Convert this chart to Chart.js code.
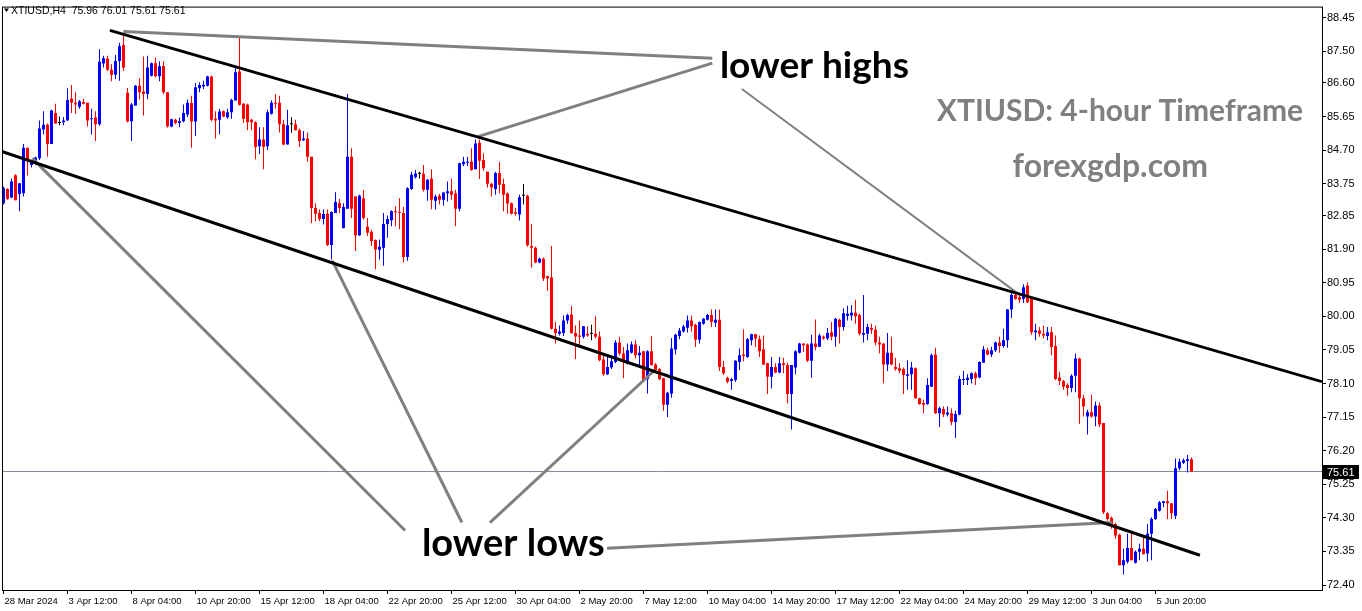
<!DOCTYPE html>
<html><head><meta charset="utf-8">
<script src="https://cdn.jsdelivr.net/npm/chart.js@4/dist/chart.umd.min.js"></script>
<style>html,body{margin:0;padding:0;background:#fff;overflow:hidden}canvas{display:block}</style>
</head><body>
<canvas id="c" width="1362" height="611"></canvas>
<script>
const symbolName = 'XTIUSD,H4';
const barOpen = [
83.20,83.60,83.36,83.99,83.46,83.48,84.77,84.28,84.40,84.47,
85.28,85.42,84.87,85.75,85.47,85.49,85.54,86.15,86.04,85.93,
86.06,86.04,85.57,85.62,85.43,87.15,87.29,86.97,86.83,87.22,
87.67,86.32,85.52,85.96,86.52,86.36,86.29,86.80,87.16,86.79,
87.08,86.34,85.37,85.56,85.47,85.52,85.71,86.03,85.51,86.45,
86.50,86.52,86.78,85.59,85.56,85.80,85.63,85.77,86.10,86.92,
86.01,85.98,85.56,85.49,84.81,85.00,84.81,85.73,86.04,86.04,
85.43,84.86,85.43,85.43,85.26,84.98,85.03,84.51,83.06,82.92,
82.75,82.90,82.02,82.92,83.20,82.50,83.04,84.51,83.39,82.29,
83.34,82.53,82.39,82.16,81.88,81.94,82.61,82.72,82.97,82.94,
82.92,81.68,83.60,83.93,84.03,84.03,83.58,83.90,83.27,83.41,
83.30,83.48,83.54,83.47,83.04,84.30,84.34,84.37,84.16,84.91,
84.42,84.09,83.75,83.60,84.05,83.74,83.47,83.20,82.94,82.88,
83.41,83.41,81.99,81.94,81.52,81.63,81.13,81.10,79.65,79.51,
79.53,79.88,80.05,79.53,79.46,79.42,79.51,79.50,79.51,79.42,
78.78,78.36,78.55,78.71,79.26,78.95,78.67,78.97,79.20,78.90,
79.01,78.22,79.01,78.64,78.51,78.25,77.50,77.82,79.06,79.44,
79.57,79.68,79.88,79.76,79.34,79.79,79.90,80.04,79.82,79.90,
78.57,78.26,78.17,78.20,78.71,78.92,78.85,79.32,79.49,79.35,
79.07,78.67,78.29,78.57,78.41,78.67,78.62,77.80,78.55,78.97,
79.23,79.20,78.74,79.23,79.14,79.42,79.37,79.55,79.42,79.90,
79.70,80.01,80.02,80.10,80.04,79.48,79.51,79.67,79.62,79.26,
79.23,78.64,78.97,78.57,78.53,78.51,78.32,78.36,78.53,77.68,
77.55,77.52,78.01,78.92,77.26,77.38,77.22,77.26,77.01,77.22,
78.20,78.20,78.23,78.39,78.27,78.69,79.04,78.92,79.04,79.26,
79.16,79.32,80.19,80.60,80.54,80.49,80.87,80.54,79.55,79.60,
79.51,79.44,79.55,79.16,78.27,78.17,78.06,77.97,78.32,78.81,
77.68,77.17,77.29,77.17,77.48,76.98,74.43,74.30,74.13,73.82,
72.96,73.06,73.45,73.03,73.34,73.43,73.29,73.85,74.27,74.50,
74.72,74.77,74.71,74.36,75.70,75.86,75.91,75.96];
const barHigh = [
83.67,83.62,83.90,84.02,83.76,84.87,84.77,84.42,84.51,85.54,
85.80,85.45,85.84,86.01,85.65,85.64,86.45,86.54,86.34,86.12,
86.15,86.04,85.87,85.80,87.55,87.37,87.37,87.13,87.39,87.74,
87.97,86.46,86.03,86.54,86.73,87.35,87.37,87.18,87.32,87.21,
87.21,86.34,85.59,85.59,85.62,85.99,86.13,86.24,86.60,86.62,
86.66,86.80,86.80,85.80,85.87,85.82,85.87,86.15,87.04,87.88,
86.03,86.01,85.59,85.52,85.35,85.35,85.84,86.10,86.29,86.24,
85.56,85.84,85.63,85.56,85.31,85.24,85.19,84.51,83.20,83.02,
83.02,83.02,82.97,83.51,83.32,83.20,86.29,84.75,83.39,83.44,
83.58,82.78,82.45,82.17,82.17,82.92,82.85,83.00,83.11,83.34,
83.09,83.65,84.09,84.14,84.09,84.28,83.88,84.16,83.44,83.46,
83.50,83.81,83.90,83.58,84.34,84.51,84.51,84.75,85.00,85.00,
84.61,84.09,83.78,84.09,84.37,83.90,83.50,83.22,83.06,83.44,
83.74,83.44,82.61,81.97,81.66,81.66,81.15,81.99,79.84,79.74,
80.02,80.07,80.29,79.74,79.88,79.72,79.72,79.76,80.00,79.57,
78.90,78.90,78.90,79.32,79.42,79.13,79.23,79.29,79.32,79.16,
79.01,79.04,79.44,78.67,78.54,78.26,77.87,79.39,79.51,79.67,
79.76,80.02,80.02,79.79,79.85,79.95,80.07,80.19,80.19,80.19,
78.74,78.29,78.26,78.76,79.09,79.63,79.39,79.51,79.51,79.46,
79.46,78.69,78.85,78.67,78.85,78.83,78.69,78.62,79.04,79.25,
79.23,79.23,79.48,79.91,79.51,79.46,79.67,79.84,79.95,79.93,
80.23,80.30,80.32,80.47,80.07,80.60,79.79,79.79,79.74,79.42,
79.23,79.53,79.42,78.83,78.67,78.55,78.76,78.71,78.55,77.70,
77.64,78.25,78.95,79.11,77.45,77.45,77.45,77.39,77.33,78.32,
78.45,78.36,78.41,78.43,78.73,79.16,79.11,79.14,79.29,79.42,
79.65,80.21,80.66,80.68,80.60,80.91,80.96,80.54,79.79,79.70,
79.74,79.70,79.70,79.46,78.43,78.20,78.11,78.36,78.95,78.83,
77.78,77.36,77.78,77.59,77.57,76.98,74.46,74.34,74.16,73.85,
73.43,73.85,73.85,73.38,73.57,73.76,74.13,74.32,74.58,74.78,
74.78,75.07,74.71,75.98,75.98,75.98,76.08,76.01];
const barLow = [
83.16,83.30,83.34,83.28,82.97,83.39,83.98,84.21,84.28,84.42,
85.15,84.51,84.87,85.45,85.40,85.40,85.54,85.75,85.73,85.87,
85.99,85.37,85.14,84.96,85.39,87.04,86.94,86.65,86.71,86.66,
86.94,85.49,84.96,85.96,86.13,85.68,86.14,86.78,86.76,86.65,
86.29,85.34,85.35,85.43,85.35,85.49,85.64,84.77,85.10,86.34,
86.43,86.50,85.52,85.03,85.15,85.63,85.59,85.59,86.10,85.96,
85.47,85.26,85.26,84.44,84.59,84.16,84.70,85.71,85.87,85.20,
84.84,84.86,85.19,85.26,84.79,84.96,84.37,82.64,82.69,82.69,
82.60,81.99,81.61,82.92,82.92,82.48,83.04,82.78,81.85,82.27,
82.74,82.27,81.99,81.33,81.61,81.43,82.22,82.55,82.55,82.46,
81.52,81.57,83.58,83.90,83.90,83.53,83.27,83.03,83.02,83.16,
83.13,83.25,83.30,82.55,82.97,84.25,84.25,84.12,84.16,83.88,
84.12,83.64,83.39,83.44,83.48,82.97,82.90,82.88,82.85,82.71,
83.16,81.97,81.38,81.50,81.50,81.00,80.72,79.63,79.23,79.46,
79.44,79.79,79.51,78.79,79.18,79.37,79.42,79.32,79.37,78.73,
78.32,78.34,78.51,78.67,78.90,78.25,78.64,78.95,78.81,78.57,
78.15,77.82,78.60,78.43,78.20,77.33,77.15,77.70,78.92,79.35,
79.54,79.54,79.56,79.13,79.23,79.76,79.88,79.70,79.70,78.45,
78.34,78.11,77.92,78.15,78.48,78.73,78.83,79.18,79.13,78.85,
78.62,77.80,77.96,78.39,78.39,78.39,77.54,76.80,78.36,78.95,
78.99,78.71,78.26,79.04,79.14,79.34,79.32,79.32,79.14,79.23,
79.60,79.88,79.88,79.79,79.46,79.26,79.32,79.51,79.18,78.95,
78.11,78.45,78.62,78.46,78.39,77.80,77.92,77.92,77.67,77.50,
77.26,77.50,78.01,77.24,76.87,77.15,77.17,76.92,76.56,77.20,
78.06,78.06,78.11,78.06,78.25,78.69,78.90,78.85,78.99,78.97,
79.11,79.11,79.95,80.47,80.38,80.38,80.38,79.48,79.32,79.42,
79.37,79.32,78.90,78.20,78.06,77.92,77.76,77.85,77.85,76.96,
77.17,76.66,77.14,76.89,76.87,74.41,74.22,73.99,73.71,72.96,
72.70,73.01,73.10,73.01,73.10,73.27,73.06,73.10,74.24,74.48,
74.60,74.27,74.27,74.27,75.65,75.82,75.58,75.61];
const barClose = [
83.62,83.32,83.81,83.28,83.76,84.77,84.42,84.35,84.49,85.31,
85.42,84.87,85.82,85.45,85.47,85.54,86.12,86.04,85.99,86.08,
86.01,85.54,85.59,85.43,87.20,87.30,86.97,86.83,87.22,87.64,
87.04,85.51,85.99,86.52,86.34,86.29,87.04,87.16,86.79,87.07,
86.34,85.37,85.57,85.47,85.52,85.75,86.04,85.51,86.48,86.54,
86.55,86.78,85.56,85.54,85.79,85.65,85.77,86.12,86.90,85.98,
85.59,85.49,85.49,84.79,85.00,84.79,85.77,86.04,86.01,85.43,
84.86,85.40,85.43,85.26,84.96,85.03,84.51,83.06,82.90,82.75,
82.89,82.02,82.95,83.23,83.06,83.09,84.51,83.04,82.29,83.41,
82.78,82.36,82.13,81.89,81.97,82.61,82.75,82.97,82.94,82.92,
81.68,83.62,84.00,84.04,84.03,83.58,83.86,83.30,83.39,83.30,
83.50,83.54,83.44,83.04,84.33,84.37,84.37,84.14,84.89,84.40,
84.19,83.75,83.65,84.05,83.72,83.44,83.19,82.90,82.90,83.37,
83.41,82.01,81.94,81.52,81.63,81.07,81.07,79.65,79.53,79.57,
79.88,80.04,79.53,79.43,79.42,79.72,79.46,79.50,79.42,78.76,
78.36,78.57,78.73,79.26,78.95,78.71,79.04,79.20,78.90,78.97,
78.20,79.01,78.62,78.48,78.22,77.50,77.84,79.09,79.48,79.60,
79.71,79.88,79.72,79.34,79.84,79.93,80.04,79.84,79.90,78.57,
78.39,78.15,78.22,78.74,78.90,78.88,79.35,79.49,79.37,79.01,
78.64,78.29,78.57,78.41,78.67,78.62,77.80,78.62,79.01,79.23,
79.18,78.74,79.23,79.13,79.46,79.37,79.53,79.42,79.93,79.70,
80.09,80.07,80.10,80.00,79.51,79.53,79.70,79.62,79.26,79.20,
78.64,78.97,78.64,78.51,78.46,78.34,78.36,78.55,77.68,77.52,
77.50,78.06,78.90,77.26,77.40,77.22,77.28,77.01,77.24,78.23,
78.23,78.26,78.39,78.25,78.71,79.07,78.92,79.04,79.26,79.16,
79.32,80.19,80.60,80.49,80.47,80.82,80.40,79.55,79.60,79.51,
79.46,79.55,79.13,78.23,78.17,78.01,77.97,78.32,78.81,77.68,
77.45,77.29,77.17,77.48,76.94,74.46,74.27,74.13,73.80,72.96,
73.10,73.45,73.10,73.34,73.43,73.27,73.85,74.27,74.55,74.74,
74.77,74.71,74.43,75.70,75.89,75.93,75.96,75.61];

const xTickBars = [0,16,32,48,64,80,96,112,128,144,160,176,192,208,224,240,256,272,288];
const xTickLabels = ['28 Mar 2024','3 Apr 12:00','8 Apr 04:00','10 Apr 20:00','15 Apr 12:00','18 Apr 04:00','22 Apr 20:00','25 Apr 12:00','30 Apr 04:00','2 May 20:00','7 May 12:00','10 May 04:00','14 May 20:00','17 May 12:00','22 May 04:00','24 May 20:00','29 May 12:00','3 Jun 04:00','5 Jun 20:00'];
const yTickValues = [88.45,87.50,86.60,85.65,84.70,83.75,82.85,81.90,80.95,80.00,79.05,78.10,77.15,76.20,75.25,74.30,73.35,72.40];

// trend channel anchors: [bar index, price]
const upperChannel = [[26.6, 88.085],[329.6, 78.152]];
const lowerChannel = [[-0.4, 84.662],[299.1, 73.242]];
// annotation connector lines: [bar index, price]
const highsLinks = [
  [[30.0, 88.057],[177.2, 87.300]],
  [[118.6, 85.083],[177.2, 87.160]],
  [[184.6, 86.430],[254.2, 80.593]]
];
const lowsLinks = [
  [[7.2, 84.466],[100.4, 73.943]],
  [[82.2, 81.576],[114.6, 74.168]],
  [[162.9, 78.489],[121.6, 74.168]],
  [[150.9, 73.438],[277.1, 74.168]]
];
const textNotes = [
  {text:'lower highs', at:[179.1, 86.738], color:'#000000', size:37, align:'left'},
  {text:'lower lows', at:[104.6, 73.214], color:'#000000', size:38, align:'left'},
  {text:'XTIUSD: 4-hour Timeframe', at:[279.1, 85.532], color:'#808080', size:30, align:'center'},
  {text:'forexgdp.com', at:[276.7, 83.930], color:'#808080', size:32, align:'center'}
];

const n = barOpen.length;
const last = n - 1;
const candleColor = barOpen.map((o, i) => barClose[i] > o ? '#0000ff' : (barClose[i] < o ? '#ff0000' : '#000000'));
const wickData = barOpen.map((o, i) => ({x: i, y: [barLow[i], barHigh[i]]}));
const bodyData = barOpen.map((o, i) => ({x: i, y: [o, barClose[i]]}));
const toPts = seg => seg.map(p => ({x: p[0], y: p[1]}));

function lineDs(seg, color, width) {
  return {type: 'line', data: toPts(seg), borderColor: color, borderWidth: width,
    pointRadius: 0, fill: false, tension: 0, order: 0, borderCapStyle: 'butt'};
}

const X_MIN = -0.125, X_MAX = 329.625;
const datasets = [
  lineDs(upperChannel, '#000000', 3),
  lineDs(lowerChannel, '#000000', 3),
  ...highsLinks.map((s, k) => lineDs(s, '#808080', k === 2 ? 2 : 3)),
  ...lowsLinks.map(s => lineDs(s, '#808080', 3)),
  {type: 'bar', data: bodyData, backgroundColor: candleColor, barThickness: 3, grouped: false,
    minBarLength: 1, inflateAmount: 0, borderWidth: 0, order: 1},
  {type: 'bar', data: wickData, backgroundColor: candleColor, barThickness: 1, grouped: false,
    inflateAmount: 0, borderWidth: 0, order: 2},
  {type: 'line', data: [{x: X_MIN, y: barClose[last]}, {x: X_MAX, y: barClose[last]}],
    borderColor: '#7f8a96', borderWidth: 1, pointRadius: 0, order: 3}
];

const overlay = {
  id: 'overlay',
  afterDraw(chart) {
    const {ctx, chartArea: a, scales: {x, y}} = chart;
    ctx.save();
    // plot frame
    ctx.strokeStyle = '#000'; ctx.lineWidth = 1;
    ctx.strokeRect(a.left - 0.5, a.top - 0.5, a.right - a.left + 1, a.bottom - a.top + 1);
    // notes
    textNotes.forEach(t => {
      ctx.font = 'bold ' + t.size + 'px Lato, "Open Sans", sans-serif';
      ctx.fillStyle = t.color; ctx.textAlign = t.align; ctx.textBaseline = 'alphabetic';
      ctx.fillText(t.text, x.getPixelForValue(t.at[0]), y.getPixelForValue(t.at[1]));
    });
    // header
    ctx.fillStyle = '#000';
    ctx.beginPath(); ctx.moveTo(4, 8.5); ctx.lineTo(9, 8.5); ctx.lineTo(6.5, 12); ctx.closePath(); ctx.fill();
    ctx.font = '10.5px "Liberation Sans", Arial, sans-serif';
    ctx.textAlign = 'left'; ctx.textBaseline = 'alphabetic';
    ctx.fillText(symbolName + '  ' + [barOpen[last], barHigh[last], barLow[last], barClose[last]].map(v => v.toFixed(2)).join(' '), 11, 13.5);
    // last price box
    const py = Math.round(y.getPixelForValue(barClose[last]));
    ctx.fillStyle = '#000';
    ctx.fillRect(a.right + 1, py - 7, 36, 14);
    ctx.fillStyle = '#fff';
    ctx.font = '11px "Liberation Sans", Arial, sans-serif';
    ctx.textBaseline = 'middle';
    ctx.fillText(barClose[last].toFixed(2), a.right + 5, py + 0.5);
    ctx.restore();
  }
};

Chart.defaults.font.family = '"Liberation Sans", Arial, sans-serif';
Chart.defaults.font.size = 10;
Chart.defaults.color = '#000';

new Chart(document.getElementById('c'), {
  type: 'bar',
  data: {datasets},
  options: {
    responsive: false, animation: false, devicePixelRatio: 1, events: [],
    layout: {padding: {left: 3, top: 3, right: 0, bottom: 0}},
    plugins: {legend: {display: false}, tooltip: {enabled: false}},
    scales: {
      x: {
        type: 'linear', min: X_MIN, max: X_MAX, offset: false,
        afterBuildTicks: s => { s.ticks = xTickBars.map(v => ({value: v})); },
        afterFit: s => { s.height = 21; },
        ticks: {autoSkip: false, maxRotation: 0, minRotation: 0, align: 'start', labelOffset: 1, padding: 2,
          font: {size: 9.5}, callback: (v, i) => xTickLabels[i], color: '#000'},
        grid: {display: true, drawOnChartArea: false, drawTicks: true, tickLength: 4, color: '#000', offset: false},
        border: {display: false}
      },
      y: {
        type: 'linear', position: 'right', min: 72.260, max: 88.7306,
        afterBuildTicks: s => { s.ticks = yTickValues.map(v => ({value: v})); },
        afterFit: s => { s.width = 40; },
        ticks: {padding: 1, font: {size: 11}, callback: v => v.toFixed(2), color: '#000'},
        grid: {display: true, drawOnChartArea: false, drawTicks: true, tickLength: 4, color: '#000'},
        border: {display: false}
      }
    }
  },
  plugins: [overlay]
});
</script>
</body></html>
